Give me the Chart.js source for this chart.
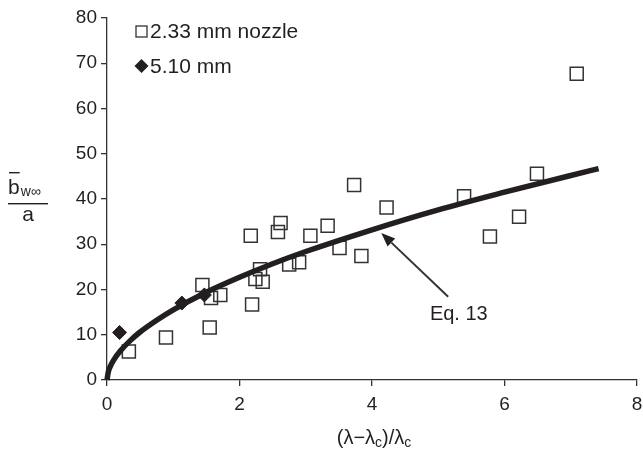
<!DOCTYPE html>
<html>
<head>
<meta charset="utf-8">
<script src="https://cdn.jsdelivr.net/npm/chart.js@4.4.1/dist/chart.umd.min.js"></script>
<style>
  html, body { margin: 0; padding: 0; background: #fff; }
  #wrap { width: 643px; height: 450px; }
</style>
</head>
<body>
<div id="wrap"><canvas id="myGraph"></canvas></div>
<script>
// 2.33 mm nozzle (open squares)
const nozzle233X = [0.33, 0.89, 1.44, 1.55, 1.57, 1.71, 2.17, 2.19, 2.24, 2.31, 2.35, 2.58, 2.62, 2.75, 2.90, 3.07, 3.33, 3.51, 3.73, 3.84, 4.22, 5.39, 5.78, 6.22, 6.49, 7.09];
const nozzle233Y = [6.3, 9.4, 21.0, 11.6, 18.1, 18.8, 31.9, 16.7, 22.3, 24.5, 21.7, 32.7, 34.7, 25.5, 26.0, 31.9, 34.1, 29.2, 43.1, 27.4, 38.1, 40.6, 31.7, 36.1, 45.6, 67.7];

// 5.10 mm (filled diamonds)
const nozzle510X = [0.19, 1.13, 1.47];
const nozzle510Y = [10.5, 17.0, 18.8];

// Eq. 13 curve
const eq13X = [0, 0.02, 0.05, 0.1, 0.2, 0.35, 0.5, 0.75, 1, 1.5, 2, 2.5, 3, 4, 5, 6, 7, 7.42];
const eq13Y = [0, 1.8, 3.0, 4.4, 6.4, 8.7, 10.6, 13.2, 15.5, 19.4, 22.7, 25.7, 28.4, 33.2, 37.6, 41.5, 45.2, 46.7];

const xTicks = [0, 2, 4, 6, 8];
const yTicks = [0, 10, 20, 30, 40, 50, 60, 70, 80];

const INK = "#231f20";
const AXIS = "#333333";
const FONT = '"Liberation Sans", Arial, Helvetica, sans-serif';

function pts(xs, ys) {
  return xs.map((x, i) => ({ x: x, y: ys[i] }));
}

// where the "Eq. 13" note sits, in data units
const eqNote = { text: "Eq. 13", x: 5.31, y: 14.4, tailX: 5.15, tailY: 18.4, tipX: 4.14, tipY: 32.5 };

// draws legend, axis titles and the arrow note
const extras = {
  id: "extras",
  afterDraw(chart) {
    const ctx = chart.ctx;
    const sx = chart.scales.x;
    const sy = chart.scales.y;
    ctx.save();
    ctx.fillStyle = INK;
    ctx.strokeStyle = INK;

    // legend
    ctx.font = "21px " + FONT;
    ctx.textBaseline = "middle";
    ctx.textAlign = "left";
    ctx.lineWidth = 1.3;
    ctx.strokeStyle = AXIS;
    ctx.strokeRect(136, 26, 11, 11);
    ctx.fillText(chart.data.datasets[1].label, 150, 32);
    ctx.beginPath();
    ctx.moveTo(141.5, 59);
    ctx.lineTo(148.5, 66);
    ctx.lineTo(141.5, 73);
    ctx.lineTo(134.5, 66);
    ctx.closePath();
    ctx.fill();
    ctx.fillText(chart.data.datasets[2].label, 150, 67);

    // y title: b-bar w-infinity over a
    ctx.textBaseline = "alphabetic";
    ctx.font = "21px " + FONT;
    ctx.fillText("b", 8, 194);
    const bw = ctx.measureText("b").width;
    ctx.fillRect(9, 172, bw - 1, 1.4);
    ctx.font = "14px " + FONT;
    ctx.fillText("w\u221e", 8 + bw + 1, 196);
    ctx.fillRect(8, 203, 40, 1.4);
    ctx.font = "21px " + FONT;
    ctx.textAlign = "center";
    ctx.fillText("a", 28, 221);

    // x title: (λ−λc)/λc
    const parts = [["(\u03bb\u2212\u03bb", 20, 0], ["c", 14, 3], [")/\u03bb", 20, 0], ["c", 14, 3]];
    let total = 0;
    parts.forEach((p) => { ctx.font = p[1] + "px " + FONT; total += ctx.measureText(p[0]).width; });
    let cx = 374 - total / 2;
    ctx.textAlign = "left";
    parts.forEach((p) => {
      ctx.font = p[1] + "px " + FONT;
      ctx.fillText(p[0], cx, 444 + p[2]);
      cx += ctx.measureText(p[0]).width;
    });

    // Eq. 13 arrow + label
    const tx = sx.getPixelForValue(eqNote.tailX), ty = sy.getPixelForValue(eqNote.tailY);
    const hx = sx.getPixelForValue(eqNote.tipX), hy = sy.getPixelForValue(eqNote.tipY);
    const ang = Math.atan2(hy - ty, hx - tx);
    const headLen = 14, headW = 5.5;
    const bx = hx - headLen * Math.cos(ang), by = hy - headLen * Math.sin(ang);
    ctx.lineWidth = 2;
    ctx.beginPath();
    ctx.moveTo(tx, ty);
    ctx.lineTo(bx, by);
    ctx.stroke();
    ctx.beginPath();
    ctx.moveTo(hx, hy);
    ctx.lineTo(bx + headW * Math.sin(ang), by - headW * Math.cos(ang));
    ctx.lineTo(bx - headW * Math.sin(ang), by + headW * Math.cos(ang));
    ctx.closePath();
    ctx.fill();
    ctx.font = "20px " + FONT;
    ctx.textAlign = "center";
    ctx.textBaseline = "middle";
    ctx.fillText(eqNote.text, sx.getPixelForValue(eqNote.x), sy.getPixelForValue(eqNote.y));

    ctx.restore();
  }
};

new Chart(document.getElementById("myGraph"), {
  type: "scatter",
  data: {
    datasets: [
      {
        type: "line",
        label: "Eq. 13",
        data: pts(eq13X, eq13Y),
        borderColor: INK,
        borderWidth: 5.5,
        pointRadius: 0,
        cubicInterpolationMode: "monotone",
        fill: false,
        clip: false,
        order: 0,
      },
      {
        label: "2.33 mm nozzle",
        data: pts(nozzle233X, nozzle233Y),
        pointStyle: "rect",
        pointRadius: 9.2,
        borderColor: AXIS,
        borderWidth: 1.5,
        backgroundColor: "rgba(0,0,0,0)",
        order: 2,
      },
      {
        label: "5.10 mm",
        data: pts(nozzle510X, nozzle510Y),
        pointStyle: "rectRot",
        pointRadius: 7,
        backgroundColor: INK,
        borderColor: INK,
        borderWidth: 1,
        order: 1,
      },
    ],
  },
  options: {
    responsive: true,
    maintainAspectRatio: false,
    animation: false,
    layout: { autoPadding: false, padding: { top: 18, right: 6, left: 0, bottom: 0 } },
    plugins: {
      legend: { display: false },
      tooltip: { enabled: false },
    },
    scales: {
      x: {
        type: "linear",
        min: 0,
        max: 8,
        afterBuildTicks: (axis) => { axis.ticks = xTicks.map((v) => ({ value: v })); },
        ticks: { color: INK, font: { family: FONT, size: 19 }, padding: 7 },
        grid: { drawOnChartArea: false, drawTicks: true, tickLength: 6, color: AXIS, lineWidth: 1.3 },
        border: { color: AXIS, width: 1.3 },
        afterFit: (axis) => {
          axis.height = 70;
          axis.paddingLeft = 0;
          axis.paddingRight = 0;
        },
      },
      y: {
        type: "linear",
        min: 0,
        max: 80,
        afterBuildTicks: (axis) => { axis.ticks = yTicks.map((v) => ({ value: v })); },
        ticks: { color: INK, font: { family: FONT, size: 19 }, padding: 4 },
        grid: { drawOnChartArea: false, drawTicks: true, tickLength: 6, color: AXIS, lineWidth: 1.3 },
        border: { color: AXIS, width: 1.3 },
        afterFit: (axis) => { axis.width = 107; },
      },
    },
  },
  plugins: [extras],
});
</script>
</body>
</html>
